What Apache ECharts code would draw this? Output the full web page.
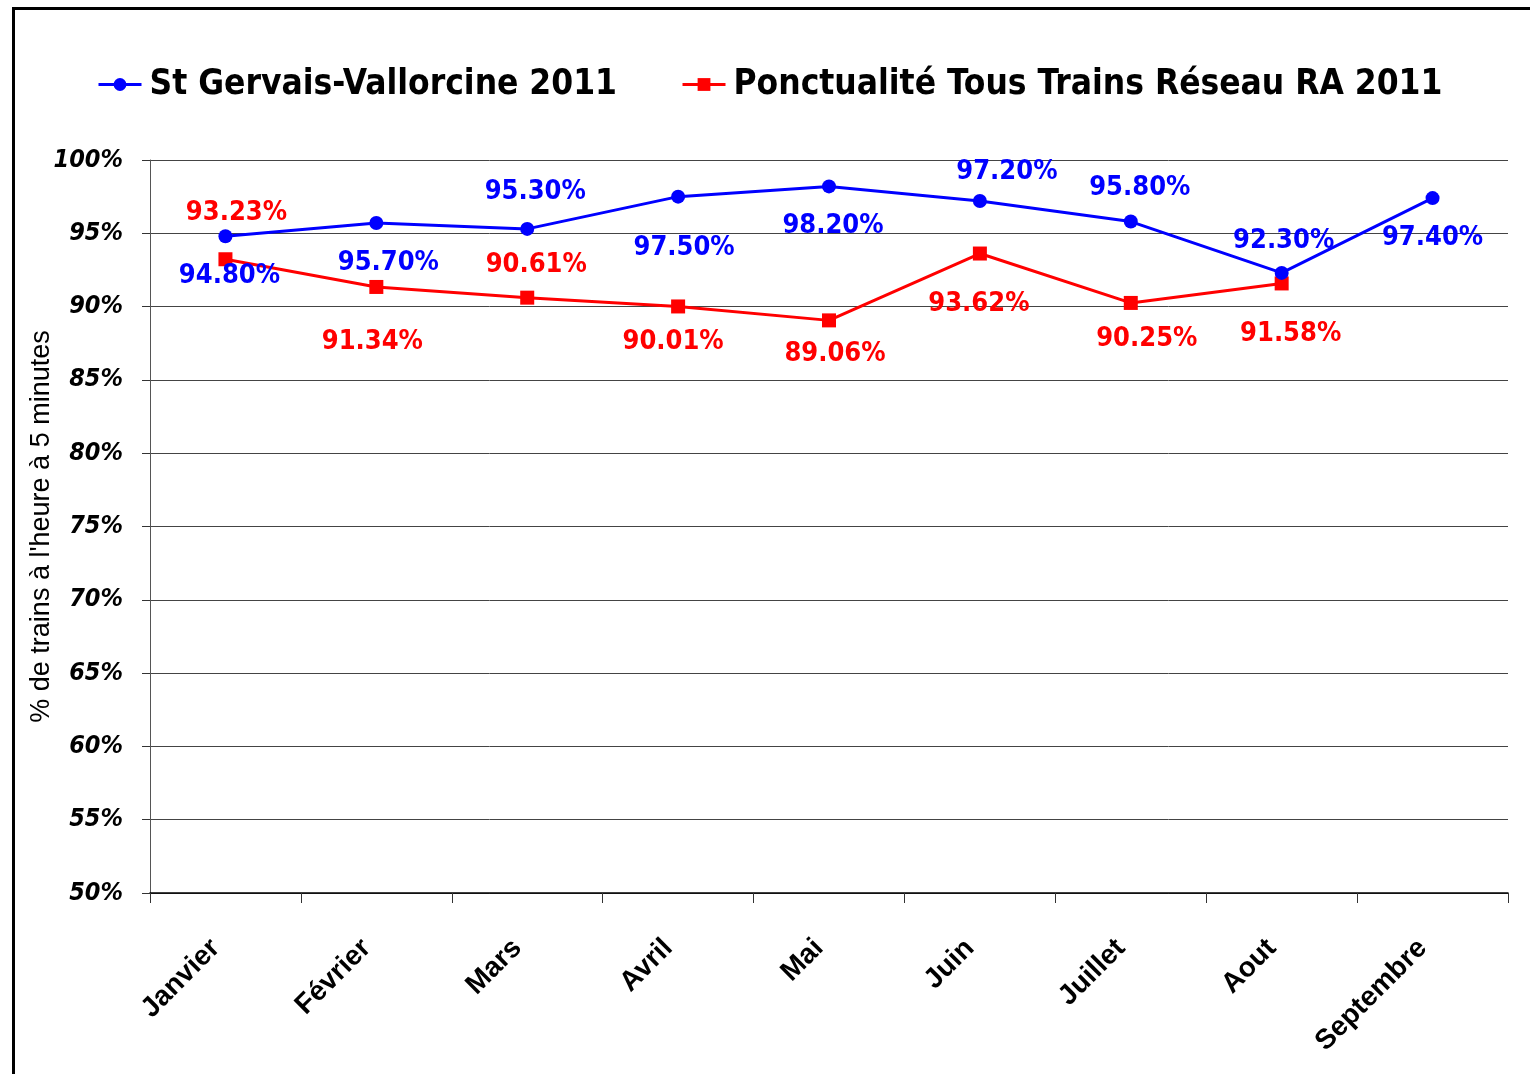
<!DOCTYPE html>
<html>
<head>
<meta charset="utf-8">
<script src="https://cdn.jsdelivr.net/npm/echarts@6/dist/echarts.min.js"></script>
<style>
  html, body { margin: 0; padding: 0; background: #fff; }
  #chart { width: 1530px; height: 1074px; }
</style>
</head>
<body>
<div id="chart"></div>
<script>
var months = ['Janvier', 'Février', 'Mars', 'Avril', 'Mai', 'Juin', 'Juillet', 'Aout', 'Septembre'];
var stGervais = [94.8, 95.7, 95.3, 97.5, 98.2, 97.2, 95.8, 92.3, 97.4];
var reseauRA = [93.23, 91.34, 90.61, 90.01, 89.06, 93.62, 90.25, 91.58, null];
var yTicks = [50, 55, 60, 65, 70, 75, 80, 85, 90, 95, 100];

// label offsets (style only), relative to each point
var blueOffsets = [[4, 40], [12, 40], [8, -37], [6, 51], [4, 40], [27, -29], [9, -34], [2, -32], [0, 40]];
var redOffsets = [[11, -46], [-4, 55], [9, -33], [-5, 36], [6, 34], [-1, 50], [16, 36], [9, 51], [0, 0]];

function draw_chart() {
  var dom = document.getElementById('chart');
  var myChart = echarts.init(dom, null, { renderer: 'canvas' });
  var narrow = '"DejaVu Sans Condensed", "Liberation Sans Narrow", sans-serif';

  function build(values, offsets) {
    return values.map(function (v, i) {
      return {
        value: v,
        label: { offset: offsets[i] }
      };
    });
  }

  var option = {
    animation: false,
    backgroundColor: '#fff',
    graphic: [{
      type: 'rect',
      left: 11, top: 6,
      shape: { width: 1560, height: 1120 },
      style: { fill: 'none', stroke: '#000', lineWidth: 3 },
      silent: true
    }],
    legend: {
      top: 62,
      left: 92,
      width: 1430,
      itemGap: 64,
      itemWidth: 43,
      itemHeight: 16,
      lineStyle: { width: 3 },
      textStyle: { fontFamily: narrow, fontWeight: 'bold', fontSize: 35, color: '#000', padding: [0, 0, 0, 3] },
      data: ['St Gervais-Vallorcine 2011', 'Ponctualité Tous Trains Réseau RA 2011']
    },
    grid: { left: 150, right: 22, top: 160, bottom: 181, containLabel: false },
    xAxis: {
      type: 'category',
      data: months,
      boundaryGap: true,
      axisLine: { lineStyle: { color: '#000', width: 1.5 } },
      axisTick: { show: true, length: 10, lineStyle: { color: '#333' } },
      axisLabel: {
        rotate: 45,
        margin: 41,
        padding: [0, 14, 0, 0],
        color: '#000',
        fontFamily: '"Liberation Sans", Arial, sans-serif',
        fontWeight: 'bold',
        fontSize: 28
      },
      splitLine: { show: false }
    },
    yAxis: {
      type: 'value',
      min: yTicks[0],
      max: yTicks[yTicks.length - 1],
      interval: 5,
      name: "% de trains à l'heure à 5 minutes",
      nameLocation: 'middle',
      nameGap: 95,
      nameMoveOverlap: false,
      nameRotate: 90,
      nameTextStyle: { fontFamily: '"Liberation Sans", Arial, sans-serif', fontSize: 27, color: '#000' },
      axisLine: { show: true, lineStyle: { color: '#555' } },
      axisTick: { show: true, inside: false, length: 8, lineStyle: { color: '#333' } },
      axisLabel: {
        margin: 27,
        color: '#000',
        fontFamily: '"DejaVu Sans Condensed", "Liberation Sans", sans-serif',
        fontWeight: 'bold',
        fontStyle: 'italic',
        fontSize: 25,
        formatter: '{value}%'
      },
      splitLine: { show: true, lineStyle: { color: '#444', width: 1 } }
    },
    series: [
      {
        name: 'St Gervais-Vallorcine 2011',
        type: 'line',
        data: build(stGervais, blueOffsets),
        color: '#0000ff',
        symbol: 'circle',
        symbolSize: 14,
        lineStyle: { width: 3, color: '#0000ff' },
        itemStyle: { color: '#0000ff' },
        label: {
          show: true,
          position: 'inside',
          color: '#0000ff',
          fontFamily: narrow,
          fontWeight: 'bold',
          fontSize: 27,
          formatter: function (p) { return p.value.toFixed(2) + '%'; }
        },
        z: 3
      },
      {
        name: 'Ponctualité Tous Trains Réseau RA 2011',
        type: 'line',
        data: build(reseauRA, redOffsets),
        color: '#ff0000',
        symbol: 'rect',
        symbolSize: 14,
        lineStyle: { width: 3, color: '#ff0000' },
        itemStyle: { color: '#ff0000' },
        label: {
          show: true,
          position: 'inside',
          color: '#ff0000',
          fontFamily: narrow,
          fontWeight: 'bold',
          fontSize: 27,
          formatter: function (p) { return p.value == null ? '' : p.value.toFixed(2) + '%'; }
        },
        z: 2
      }
    ]
  };

  myChart.setOption(option);
  window.addEventListener('resize', myChart.resize);
}
draw_chart();
</script>
</body>
</html>
